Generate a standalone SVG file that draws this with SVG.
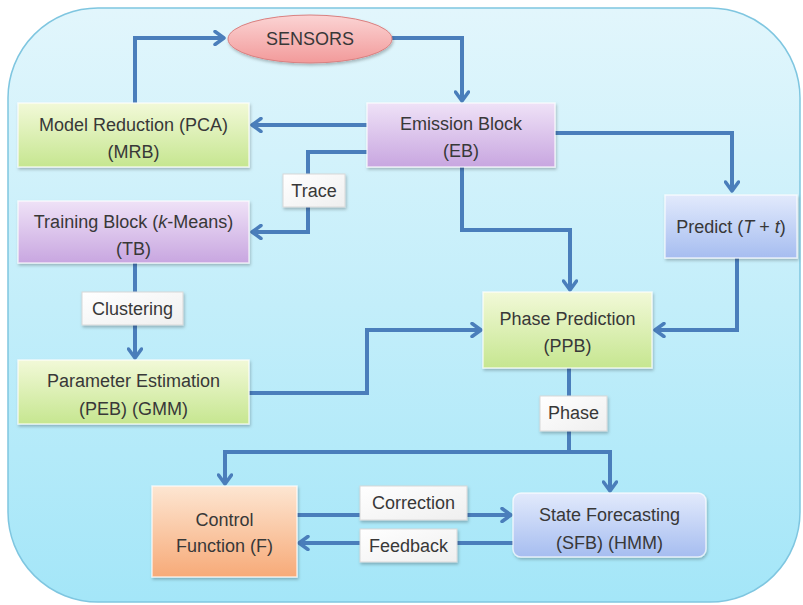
<svg xmlns="http://www.w3.org/2000/svg" width="803" height="605" viewBox="0 0 803 605">
<defs>
<linearGradient id="bg" x1="0" y1="0" x2="0" y2="1"><stop offset="0" stop-color="#e2f6fc"/><stop offset="1" stop-color="#a4e6f8"/></linearGradient>
<linearGradient id="gGreen" x1="0" y1="0" x2="0" y2="1"><stop offset="0" stop-color="#f2f9d8"/><stop offset="1" stop-color="#c6e690"/></linearGradient>
<linearGradient id="gPurple" x1="0" y1="0" x2="0" y2="1"><stop offset="0" stop-color="#efe2f7"/><stop offset="1" stop-color="#c8a6e0"/></linearGradient>
<linearGradient id="gBlue" x1="0" y1="0" x2="0" y2="1"><stop offset="0" stop-color="#e2eafc"/><stop offset="1" stop-color="#a6bdf0"/></linearGradient>
<linearGradient id="gOrange" x1="0" y1="0" x2="0" y2="1"><stop offset="0" stop-color="#fde6d2"/><stop offset="1" stop-color="#f7aa78"/></linearGradient>
<linearGradient id="gRed" x1="0" y1="0" x2="0" y2="1"><stop offset="0" stop-color="#fbd4d4"/><stop offset="1" stop-color="#f29a9a"/></linearGradient>
<linearGradient id="gLabel" x1="0" y1="0" x2="1" y2="1"><stop offset="0" stop-color="#ffffff"/><stop offset="1" stop-color="#efefef"/></linearGradient>
<filter id="sh" x="-10%" y="-10%" width="130%" height="140%"><feDropShadow dx="1" dy="2" stdDeviation="1.5" flood-color="#000" flood-opacity="0.25"/></filter>
<marker id="arr" viewBox="0 0 16 16" refX="13" refY="8" markerWidth="16" markerHeight="16" markerUnits="userSpaceOnUse" orient="auto">
<polyline points="4,1.5 13,8 4,14.5" fill="none" stroke="#4a7ebb" stroke-width="3.5" stroke-linecap="round" stroke-linejoin="round"/>
</marker>
</defs>
<style>
.conn{fill:none;stroke:#4a7ebb;stroke-width:4;stroke-linejoin:miter}
.box{stroke:#ffffff;stroke-opacity:0.7;stroke-width:1.5;filter:url(#sh)}
.lbl{fill:url(#gLabel);stroke:#d8d8d8;stroke-width:1;filter:url(#sh)}
.t{font-family:"Liberation Sans",Arial,sans-serif;font-size:18px;fill:#383838;text-anchor:middle}
</style>
<rect x="8" y="8" width="792" height="594" rx="90" ry="90" fill="url(#bg)" stroke="#7fc6e0" stroke-width="1.5"/>
<g id="connectors">
<polyline class="conn" points="135,103 135,38 224,38" marker-end="url(#arr)"/>
<polyline class="conn" points="392,38 462,38 462,101" marker-end="url(#arr)"/>
<polyline class="conn" points="367,125 252,125" marker-end="url(#arr)"/>
<polyline class="conn" points="367,152 308,152 308,232 252,232" marker-end="url(#arr)"/>
<polyline class="conn" points="135,263 135,358" marker-end="url(#arr)"/>
<polyline class="conn" points="249,393 367,393 367,330 481,330" marker-end="url(#arr)"/>
<polyline class="conn" points="462,167 462,230 570,230 570,290" marker-end="url(#arr)"/>
<polyline class="conn" points="555,133 732,133 732,191" marker-end="url(#arr)"/>
<polyline class="conn" points="737,258 737,330 655,330" marker-end="url(#arr)"/>
<polyline class="conn" points="569,368 569,452"/>
<polyline class="conn" points="610,452 225,452 225,484" marker-end="url(#arr)"/>
<polyline class="conn" points="569,452 610,452 610,491" marker-end="url(#arr)"/>
<polyline class="conn" points="297,515 511,515" marker-end="url(#arr)"/>
<polyline class="conn" points="513,543 299,543" marker-end="url(#arr)"/>
</g>
<g id="labels">
<g id="lbl-trace"><rect class="lbl" x="283" y="174" width="62" height="33"/><text class="t" x="314" y="197">Trace</text></g>
<g id="lbl-clustering"><rect class="lbl" x="82" y="292" width="101" height="33"/><text class="t" x="132.5" y="315">Clustering</text></g>
<g id="lbl-phase"><rect class="lbl" x="540" y="396" width="67" height="35"/><text class="t" x="573.5" y="419">Phase</text></g>
<g id="lbl-correction"><rect class="lbl" x="360" y="486" width="107" height="34"/><text class="t" x="413.5" y="509">Correction</text></g>
<g id="lbl-feedback"><rect class="lbl" x="360" y="529" width="97" height="33"/><text class="t" x="408.5" y="552">Feedback</text></g>
</g>
<g id="sensors"><ellipse cx="310" cy="39" rx="82" ry="24" fill="url(#gRed)" stroke="#d98080" stroke-width="1" filter="url(#sh)"/><text class="t" x="310" y="45">SENSORS</text></g>
<g id="mrb"><rect class="box" x="18" y="103" width="231" height="64" fill="url(#gGreen)"/><text class="t" x="133.5" y="131">Model Reduction (PCA)</text><text class="t" x="133.5" y="158">(MRB)</text></g>
<g id="eb"><rect class="box" x="367" y="103" width="188" height="64" fill="url(#gPurple)"/><text class="t" x="461" y="130">Emission Block</text><text class="t" x="461" y="157">(EB)</text></g>
<g id="tb"><rect class="box" x="18" y="201" width="231" height="62" fill="url(#gPurple)"/><text class="t" x="133.5" y="228">Training Block (<tspan font-style="italic">k</tspan>-Means)</text><text class="t" x="133.5" y="255">(TB)</text></g>
<g id="predict"><rect class="box" x="665" y="195" width="132" height="63" fill="url(#gBlue)"/><text class="t" x="731" y="233">Predict (<tspan font-style="italic">T</tspan> + <tspan font-style="italic">t</tspan>)</text></g>
<g id="ppb"><rect class="box" x="483" y="292" width="169" height="76" fill="url(#gGreen)"/><text class="t" x="567.5" y="325">Phase Prediction</text><text class="t" x="567.5" y="352">(PPB)</text></g>
<g id="peb"><rect class="box" x="18" y="360" width="231" height="64" fill="url(#gGreen)"/><text class="t" x="133.5" y="387">Parameter Estimation</text><text class="t" x="133.5" y="415">(PEB) (GMM)</text></g>
<g id="cf"><rect class="box" x="152" y="486" width="145" height="91" fill="url(#gOrange)"/><text class="t" x="224.5" y="526">Control</text><text class="t" x="224.5" y="552">Function (F)</text></g>
<g id="sfb"><rect class="box" x="513" y="493" width="193" height="64" rx="8" ry="8" fill="url(#gBlue)"/><text class="t" x="609.5" y="521">State Forecasting</text><text class="t" x="609.5" y="549">(SFB) (HMM)</text></g>
</svg>
